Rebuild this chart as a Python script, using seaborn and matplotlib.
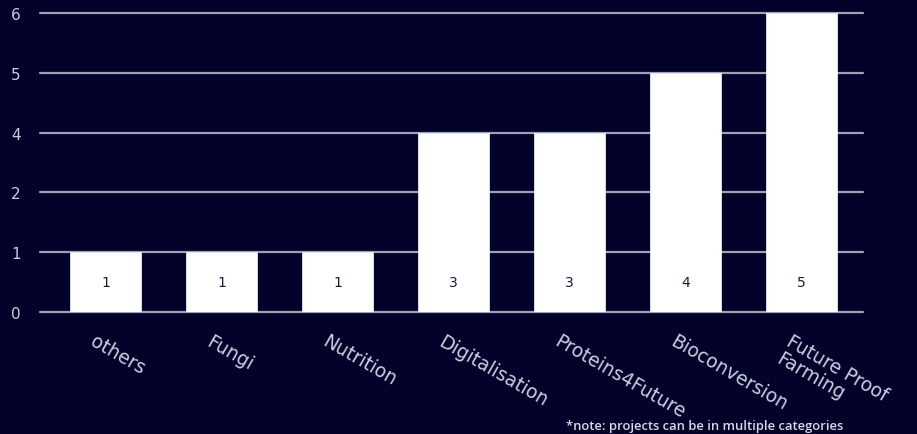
import matplotlib
matplotlib.use("Agg")
import matplotlib.pyplot as plt
import matplotlib.transforms as mtransforms
import seaborn as sns
import pandas as pd

# ---- data ----
categories = ["others", "Fungi", "Nutrition", "Digitalisation", "Proteins4Future",
              "Bioconversion", "Future Proof\nFarming"]
values = [1, 1, 1, 3, 3, 4, 5]
bar_labels = ["1", "1", "1", "3", "3", "4", "5"]
y_tick_positions = [0, 1, 2, 3, 4, 5]
y_tick_labels = ["0", "1", "2", "4", "5", "6"]
note = "*note: projects can be in multiple categories"

BG = "#02022b"
GRID = "#a0a0b4"
TXT = "#c9cde0"

sns.set_theme(style="dark")
plt.rcParams["font.family"] = ["DejaVu Sans"]

fig = plt.figure(figsize=(9.17, 4.35), dpi=100, facecolor=BG)
ax = fig.add_axes([40 / 917, 1 - 313 / 435, (863 - 40) / 917, (313 - 14) / 435])
ax.set_facecolor(BG)

df = pd.DataFrame({"category": categories, "value": values})
sns.barplot(data=df, x="category", y="value", color="white", width=0.61,
            saturation=1, edgecolor="#e8e8ee", linewidth=0.6, ax=ax, zorder=3)

ax.set_xlim(-0.565, 6.53)
ax.set_ylim(0, 5)
ax.set_yticks(y_tick_positions)
ax.set_yticklabels(y_tick_labels, color=TXT, fontsize=11, fontweight="medium")
for y in y_tick_positions:
    ax.axhline(y, color=GRID, lw=1.6, zorder=1, clip_on=False)

ax.set_xlabel("")
ax.set_ylabel("")
ax.tick_params(axis="y", length=0, pad=14)
ax.tick_params(axis="x", length=0, pad=14)
ax.set_xticks(range(len(categories)))
ax.set_xticklabels(categories, rotation=-30, ha="left", va="top",
                   rotation_mode="anchor", color=TXT, fontsize=13.5,
                   multialignment="left", linespacing=1.05)
offset = mtransforms.ScaledTranslation(-9 / 100, 0, fig.dpi_scale_trans)
for lbl in ax.get_xticklabels():
    lbl.set_transform(lbl.get_transform() + offset)
for s in ax.spines.values():
    s.set_visible(False)

for i, t in enumerate(bar_labels):
    ax.text(i, 0.5, t, ha="center", va="center", color="#1a1a3a",
            fontsize=10, fontweight="medium", zorder=4)

fig.text(843 / 917, 1 - 427 / 435, note, ha="right", va="center",
         color="#d6d8e6", fontsize=9.4, family=["Open Sans", "DejaVu Sans"],
         fontweight="semibold")

fig.savefig("out.png", dpi=100, facecolor=BG)
